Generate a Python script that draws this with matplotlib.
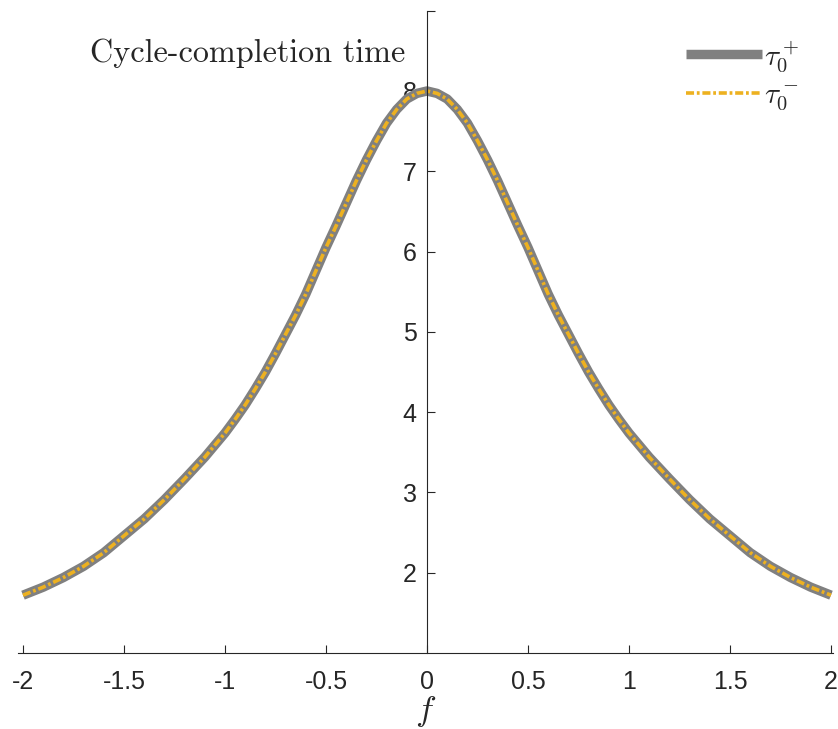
import matplotlib
matplotlib.use("Agg")
import matplotlib.pyplot as plt

# ---- data ----
f_vals = [-2.0, -1.9, -1.8, -1.7, -1.6, -1.5, -1.4, -1.3, -1.2, -1.1,
          -1.0, -0.95, -0.9, -0.85, -0.8, -0.75, -0.7, -0.65, -0.6, -0.55,
          -0.5, -0.45, -0.4, -0.35, -0.3, -0.25, -0.2, -0.15, -0.1, -0.05,
          0.0,
          0.05, 0.1, 0.15, 0.2, 0.25, 0.3, 0.35, 0.4, 0.45, 0.5,
          0.55, 0.6, 0.65, 0.7, 0.75, 0.8, 0.85, 0.9, 0.95, 1.0,
          1.1, 1.2, 1.3, 1.4, 1.5, 1.6, 1.7, 1.8, 1.9, 2.0]
tau_plus = [1.72, 1.82, 1.94, 2.08, 2.25, 2.46, 2.67, 2.91, 3.17, 3.44,
            3.74, 3.91, 4.09, 4.29, 4.50, 4.73, 4.97, 5.21, 5.47, 5.76,
            6.05, 6.32, 6.60, 6.88, 7.14, 7.38, 7.60, 7.77, 7.90, 7.97,
            8.00,
            7.97, 7.90, 7.77, 7.60, 7.38, 7.14, 6.88, 6.60, 6.32, 6.05,
            5.76, 5.47, 5.21, 4.97, 4.73, 4.50, 4.29, 4.09, 3.91, 3.74,
            3.44, 3.17, 2.91, 2.67, 2.46, 2.25, 2.08, 1.94, 1.82, 1.72]
tau_minus = list(tau_plus)

x_ticks = [-2, -1.5, -1, -0.5, 0, 0.5, 1, 1.5, 2]
x_ticklabels = ["-2", "-1.5", "-1", "-0.5", "0", "0.5", "1", "1.5", "2"]
y_ticks = [2, 3, 4, 5, 6, 7, 8, 9]
y_ticklabels = ["2", "3", "4", "5", "6", "7", "8", ""]

title_text = "Cycle-completion time"
legend_labels = [r"$\tau_0^+$", r"$\tau_0^-$"]

plt.rcParams["mathtext.fontset"] = "cm"
plt.rcParams["lines.scale_dashes"] = False
axis_color = "#262626"

fig = plt.figure(figsize=(8.38, 7.29), dpi=100)
W, H = 838, 729
x_lo, x_hi = -2.025, 2.01
px_per_unit = 202.0
left_px = 23 - (-2 - x_lo) * px_per_unit
width_px = (x_hi - x_lo) * px_per_unit
ax = fig.add_axes([left_px / W, (H - 653) / H, width_px / W, (653 - 10.7) / H])

ax.plot(f_vals, tau_plus, color="#808080", lw=6.8, solid_capstyle="butt",
        solid_joinstyle="round", label=legend_labels[0])
ax.plot(f_vals, tau_minus, color="#EDB120", lw=2.6,
        linestyle=(0, (5.8, 2.0, 2.0, 2.0)), label=legend_labels[1])

ax.set_xlim(x_lo, x_hi)
ax.set_ylim(1, 9)

ax.spines["top"].set_visible(False)
ax.spines["right"].set_visible(False)
ax.spines["left"].set_position(("data", 0))
ax.spines["bottom"].set_position(("data", 1))
for s in ("left", "bottom"):
    ax.spines[s].set_color(axis_color)
    ax.spines[s].set_linewidth(0.8)

ax.set_xticks(x_ticks)
ax.set_xticklabels(x_ticklabels)
ax.set_yticks(y_ticks)
ax.set_yticklabels(y_ticklabels)
ax.tick_params(axis="both", direction="in", length=6, width=0.8,
               colors=axis_color, labelsize=18)
ax.tick_params(axis="x", pad=12)
ax.tick_params(axis="y", pad=7.5)
for lab in ax.get_xticklabels() + ax.get_yticklabels():
    lab.set_fontfamily("Liberation Sans")

ax.set_xlabel(r"$f$", fontsize=25, color=axis_color, labelpad=0)

ax.text(-0.11, 8.36, title_text, fontfamily="cmr10", fontsize=23.2,
        ha="right", va="baseline", color=axis_color)

leg = ax.legend(loc="upper right", bbox_to_anchor=(0.976, 0.979),
                frameon=False, fontsize=21, handlelength=2.6,
                handletextpad=0.08, labelspacing=0.25, borderpad=0)
for t in leg.get_texts():
    t.set_color(axis_color)

fig.savefig("out.png", dpi=100)
